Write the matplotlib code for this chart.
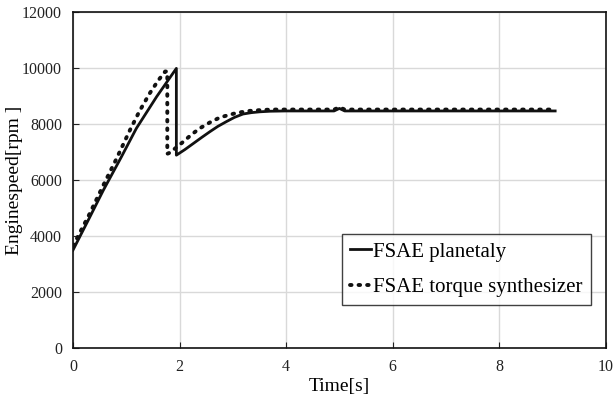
import numpy as np
import matplotlib.pyplot as plt

plt.rcParams['font.family'] = ['Liberation Serif', 'DejaVu Serif']

# FSAE planetaly
t_plan = [0.0, 0.3, 0.57, 0.9, 1.19, 1.57, 1.94, 1.94, 2.1, 2.26, 2.42, 2.57, 2.72,
          2.88, 3.03, 3.19, 3.35, 3.51, 3.7, 4.0, 4.9, 5.0, 5.1, 6.0, 7.0, 8.0, 9.05]
rpm_plan = [3500, 4620, 5640, 6800, 7850, 8980, 9990, 6890, 7090, 7310, 7530, 7730,
            7920, 8090, 8240, 8360, 8410, 8440, 8460, 8470, 8470, 8560, 8470, 8470,
            8470, 8470, 8470]

# FSAE torque synthesizer
t_synth = [0.0, 0.3, 0.57, 0.8, 1.07, 1.25, 1.44, 1.6, 1.73, 1.77, 1.77, 1.82, 2.07,
           2.22, 2.38, 2.57, 2.76, 3.07, 3.3, 3.51, 3.72, 4.0, 4.9, 5.0, 5.1, 6.0,
           7.0, 8.0, 9.05]
rpm_synth = [3650, 4750, 5820, 6700, 7790, 8470, 9100, 9560, 9880, 9880, 6940, 6980,
             7370, 7620, 7850, 8060, 8240, 8400, 8470, 8500, 8520, 8520, 8520, 8600,
             8520, 8520, 8520, 8520, 8520]

fig = plt.figure(figsize=(6.15, 4.05), dpi=100)
ax = fig.add_axes([0.1187, 0.1407, 0.8663, 0.8293])

ax.plot(t_plan, rpm_plan, color='#111111', lw=2.0, label='FSAE planetaly')
ax.plot(t_synth, rpm_synth, color='#111111', lw=2.8, linestyle=(0, (0.4, 1.8)),
        dash_capstyle='round', label='FSAE torque synthesizer')

ax.set_xlim(0, 10)
ax.set_ylim(0, 12000)
ax.set_xticks(np.arange(0, 11, 2))
ax.set_yticks(np.arange(0, 12001, 2000))
ax.grid(True, color='#d9d9d9', lw=1.0)
ax.set_axisbelow(True)
ax.tick_params(direction='in', length=4, labelsize=11.5, colors='#222222', pad=8)
for s in ax.spines.values():
    s.set_linewidth(1.2)
    s.set_color('#111111')

ax.set_xlabel('Time[s]', fontsize=14, labelpad=2)
ax.set_ylabel('Enginespeed[rpm ]', fontsize=14)
ax.yaxis.set_label_coords(-0.094, 0.5)

leg = ax.legend(loc='lower right', bbox_to_anchor=(0.98, 0.115), fontsize=15,
                frameon=True, fancybox=False, edgecolor='#111111',
                handlelength=1.0, handletextpad=0.1, borderpad=0.4, labelspacing=0.75,
                borderaxespad=0.2)
leg.get_frame().set_linewidth(1.0)

fig.savefig('out.png', dpi=100)
